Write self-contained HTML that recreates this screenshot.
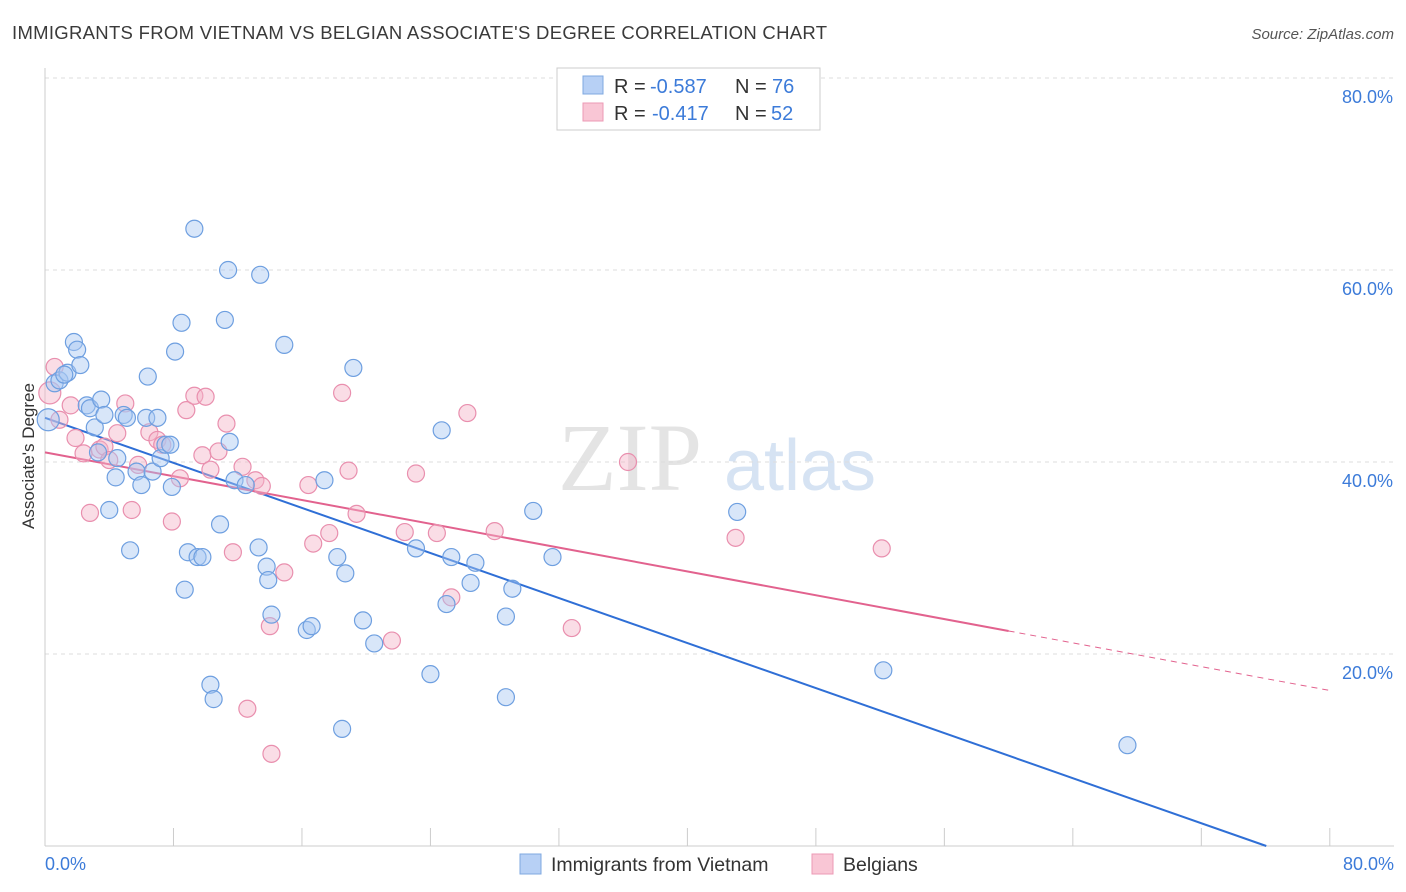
<!DOCTYPE html>
<html><head><meta charset="utf-8">
<style>
body{margin:0;background:#fff;font-family:"Liberation Sans",sans-serif;}
svg{display:block}
</style></head>
<body>
<svg id="chart" width="1406" height="892">
<text x="12" y="39" font-size="18.5" fill="#3a3a3a" letter-spacing="0.3">IMMIGRANTS FROM VIETNAM VS BELGIAN ASSOCIATE'S DEGREE CORRELATION CHART</text>
<text x="1394" y="39" font-size="15" fill="#555" font-style="italic" text-anchor="end">Source: ZipAtlas.com</text>
<text x="630" y="490" font-size="96" fill="#e4e4e4" font-family="Liberation Serif,serif" text-anchor="middle">ZIP</text>
<text x="800" y="490" font-size="72" fill="#d6e3f3" text-anchor="middle">atlas</text>
<g id="grid"></g><g id="axes"></g><g id="lines"></g><g id="pts"></g>
<text x="34" y="456" font-size="17" fill="#333" text-anchor="middle" transform="rotate(-90 34 456)">Associate's Degree</text>
<g font-size="20">
<rect x="557" y="68" width="263" height="62" fill="#fff" stroke="#ccc"/>
<rect x="583" y="76" width="20" height="18" fill="#b7d0f5" stroke="#7fa8e0"/>
<rect x="583" y="103" width="20" height="18" fill="#f9c6d5" stroke="#ec9ab5"/>
<text x="614" y="93" fill="#333">R =</text>
<text x="650" y="93" fill="#3c7bd9">-0.587</text>
<text x="735" y="93" fill="#333">N =</text>
<text x="772" y="93" fill="#3c7bd9">76</text>
<text x="614" y="120" fill="#333">R =</text>
<text x="652" y="120" fill="#3c7bd9">-0.417</text>
<text x="735" y="120" fill="#333">N =</text>
<text x="771" y="120" fill="#3c7bd9">52</text>
</g>
<g>
<rect x="520" y="854" width="21" height="20" fill="#b7d0f5" stroke="#7fa8e0"/>
<text x="551" y="871" font-size="19.5" fill="#333">Immigrants from Vietnam</text>
<rect x="812" y="854" width="21" height="20" fill="#f9c6d5" stroke="#ec9ab5"/>
<text x="843" y="871" font-size="19.5" fill="#333">Belgians</text>
</g>
</svg>
<script>
const yTicks=[20,40,60,80];
const xTickLabels=["0.0%","80.0%"];
const blueX=[0.2,0.6,0.9,1.4,1.2,1.8,2.0,2.2,2.6,2.8,3.1,3.3,3.5,3.7,4.0,4.4,4.5,4.9,5.1,5.3,5.7,6.0,6.3,6.4,6.7,7.0,7.2,7.5,7.8,7.9,8.1,8.5,8.7,8.9,9.3,9.5,9.8,10.3,10.5,10.9,11.2,11.4,11.5,11.8,12.5,13.3,13.4,13.8,13.9,14.1,14.9,16.3,16.6,17.4,18.2,18.5,18.7,19.2,19.8,20.5,23.1,24.0,24.7,25.0,25.3,26.5,26.8,28.7,28.7,29.1,30.4,31.6,43.1,52.2,67.4];
const blueY=[44.4,48.2,48.5,49.3,49.1,52.5,51.7,50.1,45.9,45.6,43.6,41.0,46.5,44.9,35.0,38.4,40.4,44.9,44.6,30.8,39.0,37.6,44.6,48.9,39.0,44.6,40.4,41.8,41.8,37.4,51.5,54.5,26.7,30.6,64.3,30.1,30.1,16.8,15.3,33.5,54.8,60.0,42.1,38.1,37.6,31.1,59.5,29.1,27.7,24.1,52.2,22.5,22.9,38.1,30.1,12.2,28.4,49.8,23.5,21.1,31.0,17.9,43.3,25.2,30.1,27.4,29.5,23.9,15.5,26.8,34.9,30.1,34.8,18.3,10.5];
const pinkX=[0.3,0.6,0.9,1.6,1.9,2.4,2.8,3.4,3.7,4.0,4.5,5.0,5.4,5.8,6.5,7.0,7.3,7.9,8.4,8.8,9.3,9.8,10.0,10.3,10.8,11.3,11.7,12.3,12.6,13.1,13.5,14.0,14.1,14.9,16.4,16.7,17.7,18.5,18.9,19.4,22.4,23.1,24.4,25.3,26.3,28.0,32.8,21.6,36.3,43.0,52.1];
const pinkY=[47.2,49.9,44.4,45.9,42.5,40.9,34.7,41.3,41.6,40.2,43.0,46.1,35.0,39.7,43.1,42.3,41.8,33.8,38.3,45.4,46.9,40.7,46.8,39.2,41.1,44.0,30.6,39.5,14.3,38.1,37.5,22.9,9.6,28.5,37.6,31.5,32.6,47.2,39.1,34.6,32.7,38.8,32.6,25.9,45.1,32.8,22.7,21.4,40.0,32.1,31.0];
const blueFit=[44.6,-0.5865];
const pinkFit=[41.0,-0.31];
const X=v=>45+v*16.06, Y=v=>846-v*9.6;
const NS="http://www.w3.org/2000/svg";
function mk(t,a,p){const e=document.createElementNS(NS,t);for(const k in a)e.setAttribute(k,a[k]);p.appendChild(e);return e;}
const grid=document.getElementById('grid'),axes=document.getElementById('axes'),lines=document.getElementById('lines'),pts=document.getElementById('pts');
yTicks.forEach(t=>{
 const l=mk('line',{x1:45,x2:1394,y1:Y(t),y2:Y(t),stroke:'#ddd','stroke-dasharray':'4 4'},grid);
 
 
 const tx=mk('text',{x:1393,y:Y(t)+25,'font-size':18,fill:'#3c7bd9','text-anchor':'end'},grid);
 tx.textContent=t.toFixed(1)+'%';
 
 
});
const ya=mk('line',{x1:45,x2:45,y1:68,y2:846,stroke:'#ccc'},axes);


const xa=mk('line',{x1:45,x2:1394,y1:846,y2:846,stroke:'#ccc'},axes);


for(let i=0;i<=10;i++){
 const tk=mk('line',{x1:X(i*8),x2:X(i*8),y1:828,y2:846,stroke:'#ccc'},axes);
 
 
}
[[0,'start',45],[80,'end',1394]].forEach((d,i)=>{
 const t=mk('text',{x:d[2],y:870,'font-size':18,fill:'#3c7bd9','text-anchor':d[1]},axes);
 t.textContent=xTickLabels[i];
 
 
});
function dots(xs,ys,fill,stroke,name){
 xs.forEach((x,i)=>{
  const c=mk('circle',{cx:X(x),cy:Y(ys[i]),r:i==0?11:8.5,fill:fill,'fill-opacity':0.45,stroke:stroke,'stroke-width':1.2},pts);
  
  
 });
}
dots(pinkX,pinkY,'#f4b3c7','#e98fae','belgians-point');
dots(blueX,blueY,'#a9c7f2','#6e9fe0','vietnam-point');
const bEnd=-blueFit[0]/blueFit[1];
const bl=mk('line',{x1:X(0),y1:Y(blueFit[0]),x2:X(bEnd),y2:Y(0),stroke:'#2f6fd6','stroke-width':2},lines);


const pl=mk('line',{x1:X(0),y1:Y(pinkFit[0]),x2:X(60),y2:Y(pinkFit[0]+pinkFit[1]*60),stroke:'#e2628e','stroke-width':2},lines);


const pd=mk('line',{x1:X(60),y1:Y(pinkFit[0]+pinkFit[1]*60),x2:X(80),y2:Y(pinkFit[0]+pinkFit[1]*80),stroke:'#e2628e','stroke-width':1,'stroke-dasharray':'6 5'},lines);


</script>
</body></html>
